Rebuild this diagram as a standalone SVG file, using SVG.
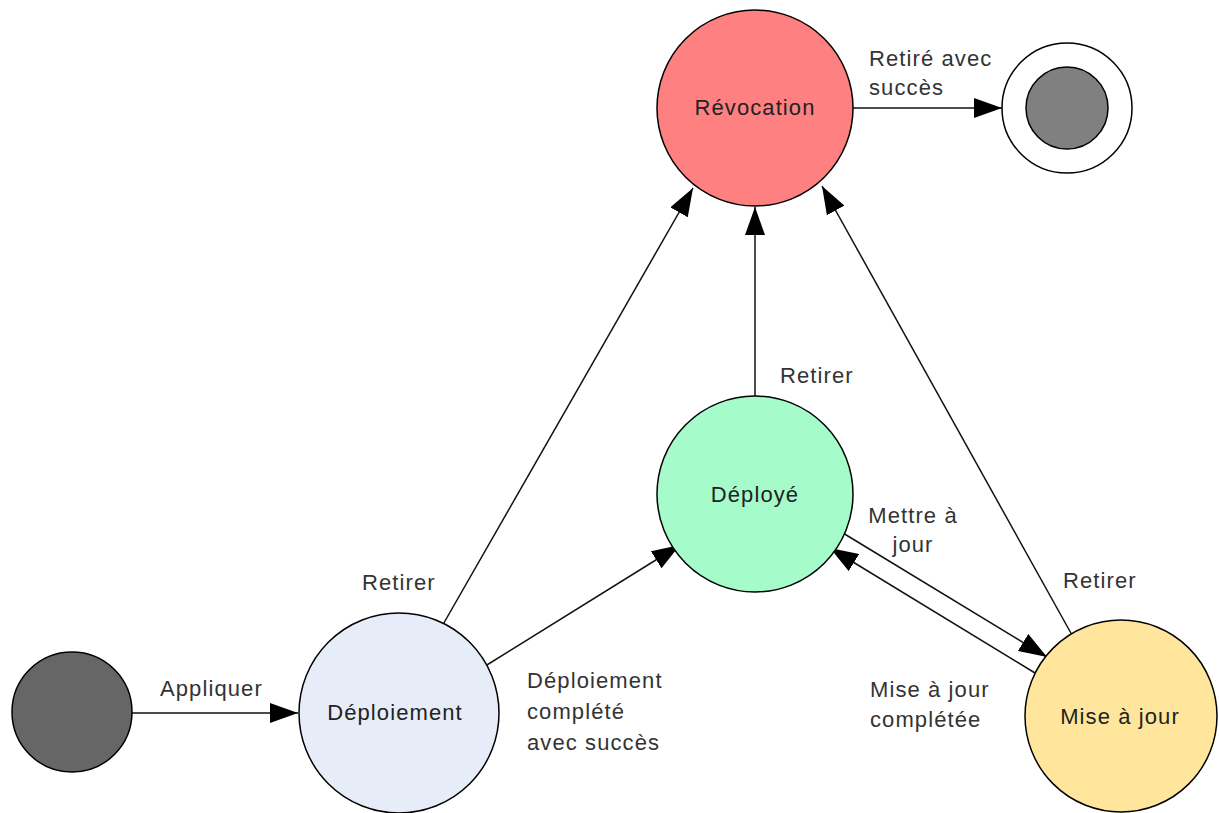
<svg xmlns="http://www.w3.org/2000/svg" width="1219" height="813" viewBox="0 0 1219 813">
  <style>
    .node { stroke: #000; stroke-width: 1.5; }
    .lbl { font-family: "Liberation Sans", Arial, sans-serif; font-size: 22px; letter-spacing: 1.1px; fill: #333; }
    .ntx { font-family: "Liberation Sans", Arial, sans-serif; font-size: 22px; letter-spacing: 1.1px; fill: #222; text-anchor: middle; }
    .edge { stroke: #111; stroke-width: 1.5; fill: none; marker-end: url(#arrow); }
  </style>
  <defs>
    <marker id="arrow" markerUnits="userSpaceOnUse" markerWidth="28" markerHeight="20" refX="28" refY="10" orient="auto" viewBox="0 0 28 20">
      <path d="M0,0 L28,10 L0,20 z" fill="#000"/>
    </marker>
  </defs>
  <rect width="1219" height="813" fill="#fff"/>

  <g id="connectors">
    <line class="edge" x1="132" y1="713" x2="298" y2="713"/>
    <line class="edge" x1="437" y1="635" x2="693" y2="188"/>
    <line class="edge" x1="482" y1="668" x2="680" y2="545"/>
    <line class="edge" x1="755" y1="396" x2="755" y2="207"/>
    <line class="edge" x1="1072" y1="635" x2="822" y2="186"/>
    <line class="edge" x1="838" y1="530" x2="1047" y2="657"/>
    <line class="edge" x1="1035" y1="673" x2="830" y2="548"/>
    <line class="edge" x1="853" y1="108" x2="1002" y2="108"/>
    <text class="lbl" x="160" y="696">Appliquer</text>
    <text class="lbl" x="362" y="590">Retirer</text>
    <text class="lbl" x="527" y="688">Déploiement</text>
    <text class="lbl" x="527" y="719">complété</text>
    <text class="lbl" x="527" y="750">avec succès</text>
    <text class="lbl" x="780" y="383">Retirer</text>
    <text class="lbl" x="913" y="523" text-anchor="middle">Mettre à</text>
    <text class="lbl" x="913" y="552" text-anchor="middle">jour</text>
    <text class="lbl" x="1063" y="588">Retirer</text>
    <text class="lbl" x="870" y="697">Mise à jour</text>
    <text class="lbl" x="870" y="727">complétée</text>
    <text class="lbl" x="869" y="66">Retiré avec</text>
    <text class="lbl" x="869" y="95">succès</text>
  </g>

  <g id="start">
    <circle class="node" cx="72" cy="712" r="60" fill="#666666"/>
  </g>
  <g id="deploiement">
    <circle class="node" cx="399" cy="713" r="100" fill="#e6ecf8"/>
    <text class="ntx" x="395" y="720">Déploiement</text>
  </g>
  <g id="deploye">
    <circle class="node" cx="755" cy="494" r="98" fill="#a5fbca"/>
    <text class="ntx" x="755" y="502">Déployé</text>
  </g>
  <g id="revocation">
    <circle class="node" cx="755" cy="108" r="98" fill="#ff8080"/>
    <text class="ntx" x="755" y="115">Révocation</text>
  </g>
  <g id="miseajour">
    <circle class="node" cx="1121" cy="716" r="96" fill="#ffe69c"/>
    <text class="ntx" x="1120" y="724">Mise à jour</text>
  </g>
  <g id="final">
    <circle class="node" cx="1067" cy="108" r="65" fill="#fff"/>
    <circle class="node" cx="1067" cy="108" r="41" fill="#808080"/>
  </g>
</svg>
